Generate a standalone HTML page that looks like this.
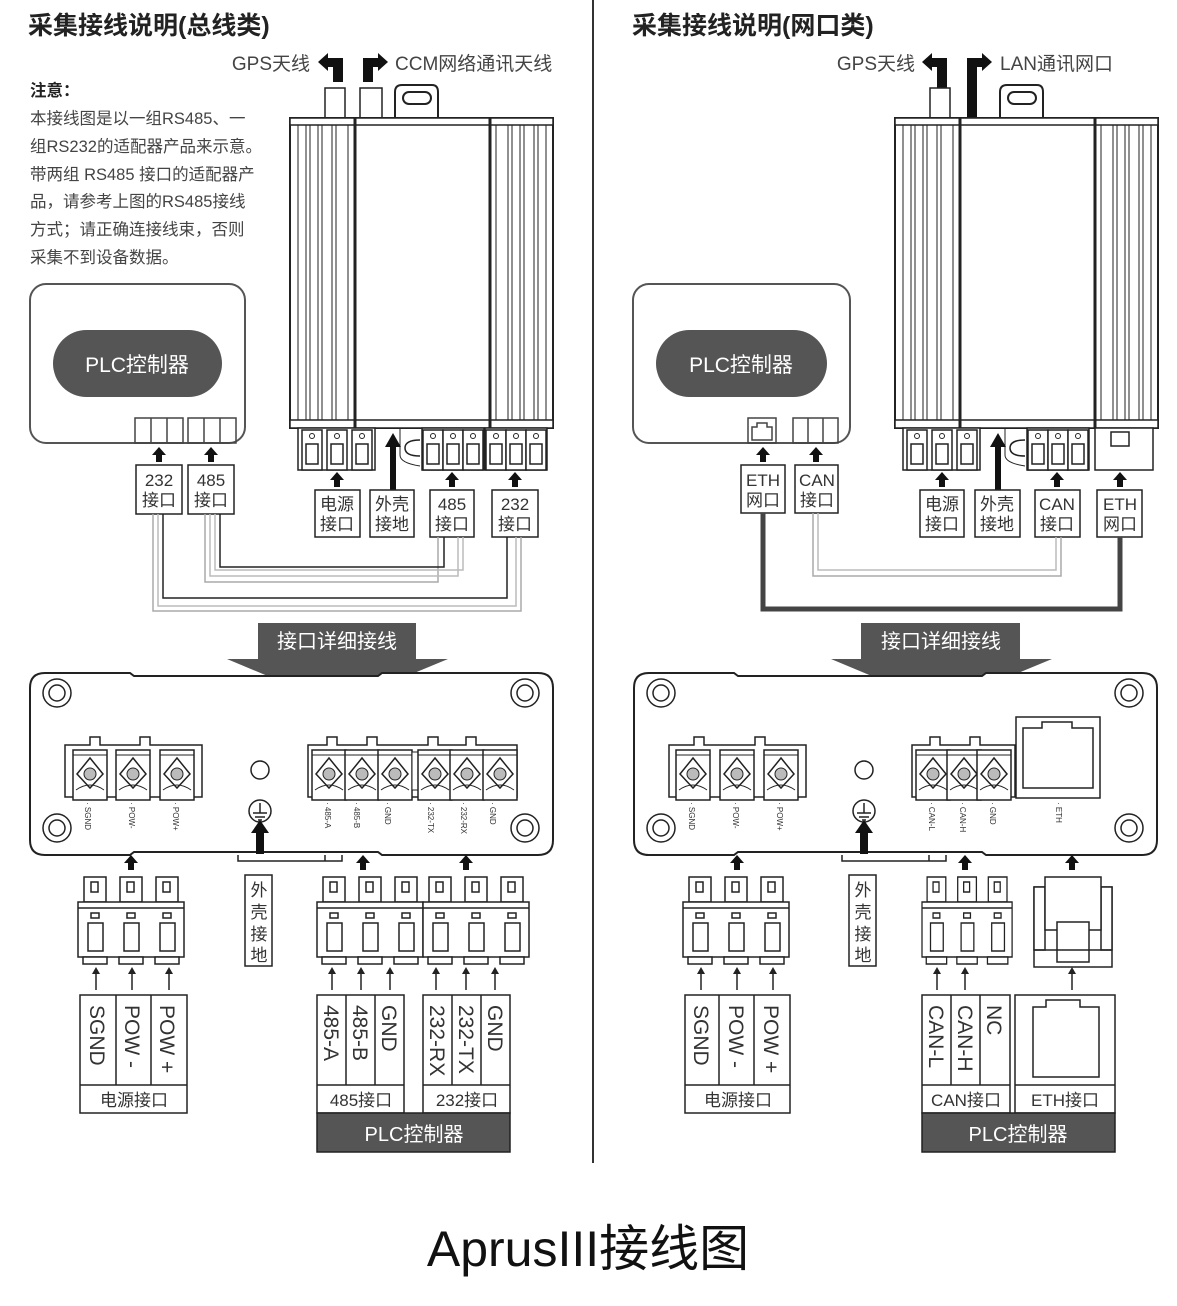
<!DOCTYPE html>
<html><head><meta charset="utf-8"><style>
html,body{margin:0;padding:0;background:#fff}
svg{display:block}
text{font-family:"Liberation Sans","Noto Sans CJK SC",sans-serif}
</style></head><body>
<svg width="1177" height="1306" viewBox="0 0 1177 1306" xmlns="http://www.w3.org/2000/svg">
<defs>
<g id="dev">
 <path d="M395 120 V92 Q395 85 402 85 H432 Q438 85 438 92 V120" fill="#fff" stroke="#222" stroke-width="2"/>
 <rect x="403" y="92" width="28" height="12" rx="6" fill="#fff" stroke="#222" stroke-width="2"/>
 <rect x="290" y="118" width="263" height="310" fill="#fff" stroke="#222" stroke-width="2"/>
 <rect x="290" y="118" width="263" height="7" fill="#fff" stroke="#222" stroke-width="1.5"/>
 <rect x="290" y="420" width="263" height="8" fill="#fff" stroke="#222" stroke-width="1.5"/>
 <line x1="355" y1="118" x2="355" y2="428" stroke="#222" stroke-width="3"/>
 <line x1="490" y1="118" x2="490" y2="428" stroke="#222" stroke-width="3"/>
 <g stroke="#222" stroke-width="1">
  <line x1="298" y1="125" x2="298" y2="420"/><line x1="306" y1="125" x2="306" y2="420"/><line x1="310" y1="125" x2="310" y2="420"/><line x1="318" y1="125" x2="318" y2="420"/><line x1="322" y1="125" x2="322" y2="420"/><line x1="332" y1="125" x2="332" y2="420"/><line x1="336" y1="125" x2="336" y2="420"/><line x1="348" y1="125" x2="348" y2="420"/>
  <line x1="496" y1="125" x2="496" y2="420"/><line x1="508" y1="125" x2="508" y2="420"/><line x1="512" y1="125" x2="512" y2="420"/><line x1="520" y1="125" x2="520" y2="420"/><line x1="524" y1="125" x2="524" y2="420"/><line x1="534" y1="125" x2="534" y2="420"/><line x1="538" y1="125" x2="538" y2="420"/><line x1="546" y1="125" x2="546" y2="420"/>
 </g>
</g>
<g id="tsmall">
 <rect x="0" y="0" width="20" height="40" fill="#fff" stroke="#222" stroke-width="1.5"/>
 <circle cx="10" cy="6" r="2.5" fill="none" stroke="#222"/>
 <rect x="4" y="14" width="12" height="20" fill="none" stroke="#222" stroke-width="1.5"/>
</g>
<g id="cell">
 <rect x="0" y="0" width="34" height="50" fill="#fff" stroke="#222" stroke-width="1.5"/>
 <line x1="0" y1="5" x2="34" y2="5" stroke="#222"/>
 <path d="M17 8 L4 24 L17 38 L30 24 Z" fill="none" stroke="#222" stroke-width="1.5"/>
 <circle cx="17" cy="24" r="6" fill="#bbb" stroke="#222"/>
 <path d="M3 40 Q17 30 31 40" fill="none" stroke="#222"/>
</g>
<g id="plug">
 <g fill="#fff" stroke="#222" stroke-width="1.5">
  <rect x="6" y="0" width="22" height="25"/><rect x="13" y="5" width="7" height="10"/>
  <rect x="42" y="0" width="22" height="25"/><rect x="49" y="5" width="7" height="10"/>
  <rect x="78" y="0" width="22" height="25"/><rect x="85" y="5" width="7" height="10"/>
  <rect x="0" y="25" width="106" height="55"/>
  <line x1="0" y1="31" x2="106" y2="31"/>
  <rect x="13" y="36" width="8" height="5"/><rect x="49" y="36" width="8" height="5"/><rect x="85" y="36" width="8" height="5"/>
  <rect x="10" y="46" width="15" height="28"/><rect x="46" y="46" width="15" height="28"/><rect x="82" y="46" width="15" height="28"/>
  <rect x="5" y="80" width="24" height="7"/><rect x="41" y="80" width="24" height="7"/><rect x="77" y="80" width="24" height="7"/>
 </g>
</g>
<g id="panel">
 <path d="M45 673 H130 L134 676 H378 L382 673 H538 Q553 673 553 688 V840 Q553 855 538 855 H382 L378 852 H134 L130 855 H45 Q30 855 30 840 V688 Q30 673 45 673 Z" fill="#fff" stroke="#222" stroke-width="2"/>
 <g fill="none" stroke="#222" stroke-width="1.5">
  <circle cx="57" cy="693" r="14"/><circle cx="57" cy="693" r="8"/>
  <circle cx="525" cy="693" r="14"/><circle cx="525" cy="693" r="8"/>
  <circle cx="57" cy="828" r="14"/><circle cx="57" cy="828" r="8"/>
  <circle cx="525" cy="828" r="14"/><circle cx="525" cy="828" r="8"/>
  <circle cx="260" cy="770" r="9"/>
  <circle cx="260" cy="811" r="11"/>
  <path d="M260 803 V813 M253 813 H267 M255 817 H265 M258 820 H262"/>
  <path d="M238 855 V861 H342 V855 M325 855 V861"/>
 </g>
 <rect x="256" y="832" width="8" height="22" fill="#111"/><path d="M251 833 L260 820 L269 833 Z" fill="#111"/>
</g>
<path id="bup" d="M-7 10 L0 2 L7 10 H3 V17 H-3 V10 Z" fill="#111"/>
<g id="sup"><line x1="0" y1="22" x2="0" y2="4" stroke="#222" stroke-width="1.5"/><path d="M-4 6 L0 -1 L4 6 Z" fill="#222"/></g>
</defs>

<line x1="593" y1="0" x2="593" y2="1163" stroke="#333" stroke-width="2"/>

<!-- LEFT -->
<text x="28" y="34" font-size="25" font-weight="bold" fill="#222">采集接线说明(总线类)</text>
<text x="310" y="70" font-size="19" fill="#444" text-anchor="end">GPS天线</text>
<path d="M318 62 L328 53 V58 H343 V82 H333 V67 H328 V71 Z" fill="#111"/>
<path d="M388 62 L378 53 V58 H363 V82 H373 V67 H378 V71 Z" fill="#111"/>
<text x="395" y="70" font-size="19" fill="#444">CCM网络通讯天线</text>
<rect x="325" y="88" width="20" height="32" fill="#fff" stroke="#222" stroke-width="1.5"/>
<rect x="360" y="88" width="22" height="32" fill="#fff" stroke="#222" stroke-width="1.5"/>
<use href="#dev"/>
<rect x="298" y="428" width="77" height="42" fill="#fff" stroke="#222" stroke-width="1.5"/>
<use href="#tsmall" x="302" y="430"/><use href="#tsmall" x="327" y="430"/><use href="#tsmall" x="352" y="430"/>
<rect x="422" y="428" width="62" height="42" fill="#fff" stroke="#222" stroke-width="1.5"/>
<use href="#tsmall" x="423" y="430"/><use href="#tsmall" x="443" y="430"/><use href="#tsmall" x="463" y="430"/>
<rect x="485" y="428" width="62" height="42" fill="#fff" stroke="#222" stroke-width="1.5"/>
<use href="#tsmall" x="486" y="430"/><use href="#tsmall" x="506" y="430"/><use href="#tsmall" x="526" y="430"/>
<path d="M420 440 Q405 440 405 448 Q405 456 420 456" fill="none" stroke="#222" stroke-width="1.5"/>
<path d="M400 428 V455 Q400 463 420 466" fill="none" stroke="#222" stroke-width="1"/>
<rect x="390" y="445" width="6" height="45" fill="#111"/><path d="M385 447 L393 433 L401 447 Z" fill="#111"/>
<use href="#bup" x="337" y="470"/><use href="#bup" x="452" y="470"/><use href="#bup" x="515" y="470"/>
<g font-size="17" fill="#333" text-anchor="middle">
<rect x="315" y="490" width="45" height="47" fill="#fff" stroke="#222" stroke-width="1.5"/><text x="337" y="510">电源</text><text x="337" y="530">接口</text>
<rect x="370" y="490" width="44" height="47" fill="#fff" stroke="#222" stroke-width="1.5"/><text x="392" y="510">外壳</text><text x="392" y="530">接地</text>
<rect x="430" y="490" width="44" height="47" fill="#fff" stroke="#222" stroke-width="1.5"/><text x="452" y="510">485</text><text x="452" y="530">接口</text>
<rect x="492" y="490" width="46" height="47" fill="#fff" stroke="#222" stroke-width="1.5"/><text x="515" y="510">232</text><text x="515" y="530">接口</text>
</g>
<g font-size="16.5" fill="#444">
<text x="30" y="96" font-weight="bold" fill="#222">注意：</text>
<text x="30" y="124">本接线图是以一组RS485、一</text>
<text x="30" y="152">组RS232的适配器产品来示意。</text>
<text x="30" y="180">带两组 RS485 接口的适配器产</text>
<text x="30" y="207">品，请参考上图的RS485接线</text>
<text x="30" y="235">方式；请正确连接线束，否则</text>
<text x="30" y="263">采集不到设备数据。</text>
</g>
<rect x="30" y="284" width="215" height="159" rx="16" fill="#fff" stroke="#555" stroke-width="2"/>
<rect x="53" y="330" width="169" height="67" rx="33.5" fill="#555"/>
<text x="137" y="372" font-size="21" fill="#fff" text-anchor="middle">PLC控制器</text>
<g fill="none" stroke="#444" stroke-width="1.5">
<rect x="135" y="418" width="48" height="25"/><line x1="151" y1="418" x2="151" y2="443"/><line x1="167" y1="418" x2="167" y2="443"/>
<rect x="188" y="418" width="48" height="25"/><line x1="204" y1="418" x2="204" y2="443"/><line x1="220" y1="418" x2="220" y2="443"/>
</g>
<use href="#bup" x="159" y="445"/><use href="#bup" x="211" y="445"/>
<g font-size="17" fill="#333" text-anchor="middle">
<rect x="136" y="465" width="46" height="49" fill="#fff" stroke="#222" stroke-width="1.5"/><text x="159" y="486">232</text><text x="159" y="506">接口</text>
<rect x="188" y="465" width="46" height="49" fill="#fff" stroke="#222" stroke-width="1.5"/><text x="211" y="486">485</text><text x="211" y="506">接口</text>
</g>
<g fill="none" stroke-width="1.5">
<path d="M153 514 V611 H521 V537" stroke="#aaa"/>
<path d="M158 514 V606 H516 V537" stroke="#bbb"/>
<path d="M163 514 V598 H507 V537" stroke="#222"/>
<path d="M205 514 V582 H438 V537" stroke="#aaa"/>
<path d="M210 514 V576 H458 V537" stroke="#bbb"/>
<path d="M215 514 V570 H463 V537" stroke="#bbb"/>
<path d="M220 514 V567 H444 V537" stroke="#222"/>
</g>
<path d="M258 623 H416 V659 H448 L337 705 L227 659 H258 Z" fill="#555"/>
<text x="337" y="648" font-size="20" fill="#fff" text-anchor="middle">接口详细接线</text>
<use href="#panel"/>
<path d="M65 745 H90 V737 H100 V745 H140 V737 H150 V745 H202 V797 H65 Z" fill="#fff" stroke="#222" stroke-width="1.5"/>
<use href="#cell" x="73" y="750"/><use href="#cell" x="116" y="750"/><use href="#cell" x="160" y="750"/>
<path d="M308 745 H327 V737 H337 V745 H367 V737 H377 V745 H428 V737 H438 V745 H466 V737 H476 V745 H517 V797 H308 Z" fill="#fff" stroke="#222" stroke-width="1.5"/>
<use href="#cell" x="312" y="750"/><use href="#cell" x="345" y="750"/><use href="#cell" x="378" y="750"/>
<rect x="412" y="752" width="6" height="38" fill="#fff" stroke="#222"/>
<use href="#cell" x="418" y="750"/><use href="#cell" x="450" y="750"/><use href="#cell" x="483" y="750"/>
<g font-size="8" fill="#333">
<text transform="translate(85,802) rotate(90)">· SGND</text>
<text transform="translate(129,802) rotate(90)">· POW-</text>
<text transform="translate(173,802) rotate(90)">· POW+</text>
<text transform="translate(325,802) rotate(90)">· 485-A</text>
<text transform="translate(354,802) rotate(90)">· 485-B</text>
<text transform="translate(385,802) rotate(90)">· GND</text>
<text transform="translate(428,802) rotate(90)">· 232-TX</text>
<text transform="translate(461,802) rotate(90)">· 232-RX</text>
<text transform="translate(490,802) rotate(90)">· GND</text>
</g>
<use href="#bup" x="131" y="853"/><use href="#bup" x="363" y="853"/><use href="#bup" x="466" y="853"/>
<rect x="245" y="875" width="27" height="91" fill="#fff" stroke="#222" stroke-width="1.5"/>
<g font-size="17" fill="#333" text-anchor="middle"><text x="259" y="896">外</text><text x="259" y="918">壳</text><text x="259" y="940">接</text><text x="259" y="961">地</text></g>
<use href="#plug" x="78" y="877"/><use href="#plug" x="317" y="877"/><use href="#plug" x="423" y="877"/>
<use href="#sup" x="96" y="968"/><use href="#sup" x="132" y="968"/><use href="#sup" x="169" y="968"/>
<use href="#sup" x="332" y="968"/><use href="#sup" x="361" y="968"/><use href="#sup" x="390" y="968"/>
<use href="#sup" x="436" y="968"/><use href="#sup" x="466" y="968"/><use href="#sup" x="495" y="968"/>
<g fill="#fff" stroke="#222" stroke-width="1.5">
<rect x="80" y="995" width="107" height="118"/><line x1="80" y1="1085" x2="187" y2="1085"/><line x1="116" y1="995" x2="116" y2="1085"/><line x1="151" y1="995" x2="151" y2="1085"/>
<rect x="317" y="995" width="87" height="118"/><line x1="317" y1="1085" x2="404" y2="1085"/><line x1="346" y1="995" x2="346" y2="1085"/><line x1="375" y1="995" x2="375" y2="1085"/>
<rect x="423" y="995" width="87" height="118"/><line x1="423" y1="1085" x2="510" y2="1085"/><line x1="452" y1="995" x2="452" y2="1085"/><line x1="481" y1="995" x2="481" y2="1085"/>
</g>
<rect x="317" y="1113" width="193" height="39" fill="#555" stroke="#222" stroke-width="1.5"/>
<g font-size="21" fill="#333">
<text transform="translate(90,1005) rotate(90)">SGND</text>
<text transform="translate(125,1005) rotate(90)">POW -</text>
<text transform="translate(160,1005) rotate(90)">POW +</text>
<text transform="translate(324,1005) rotate(90)">485-A</text>
<text transform="translate(353,1005) rotate(90)">485-B</text>
<text transform="translate(382,1005) rotate(90)">GND</text>
<text transform="translate(430,1005) rotate(90)">232-RX</text>
<text transform="translate(459,1005) rotate(90)">232-TX</text>
<text transform="translate(488,1005) rotate(90)">GND</text>
</g>
<g font-size="17" fill="#333" text-anchor="middle">
<text x="134" y="1106">电源接口</text><text x="361" y="1106">485接口</text><text x="467" y="1106">232接口</text>
</g>
<text x="414" y="1141" font-size="20" fill="#fff" text-anchor="middle">PLC控制器</text>

<!-- RIGHT -->
<text x="632" y="34" font-size="25" font-weight="bold" fill="#222">采集接线说明(网口类)</text>
<text x="915" y="70" font-size="19" fill="#444" text-anchor="end">GPS天线</text>
<path d="M922 62 L932 53 V58 H947 V90 H937 V67 H932 V71 Z" fill="#111"/>
<path d="M992 62 L982 53 V58 H967 V118 H977 V67 H982 V71 Z" fill="#111"/>
<text x="1000" y="70" font-size="19" fill="#444">LAN通讯网口</text>
<rect x="930" y="88" width="20" height="32" fill="#fff" stroke="#222" stroke-width="1.5"/>
<use href="#dev" x="605"/>
<rect x="903" y="428" width="77" height="42" fill="#fff" stroke="#222" stroke-width="1.5"/>
<use href="#tsmall" x="907" y="430"/><use href="#tsmall" x="932" y="430"/><use href="#tsmall" x="957" y="430"/>
<rect x="1027" y="428" width="62" height="42" fill="#fff" stroke="#222" stroke-width="1.5"/>
<use href="#tsmall" x="1028" y="430"/><use href="#tsmall" x="1048" y="430"/><use href="#tsmall" x="1068" y="430"/>
<rect x="1095" y="428" width="58" height="42" fill="#fff" stroke="#222" stroke-width="1.5"/>
<rect x="1111" y="432" width="18" height="14" fill="#fff" stroke="#222" stroke-width="1.5"/>
<path d="M1025 440 Q1010 440 1010 448 Q1010 456 1025 456" fill="none" stroke="#222" stroke-width="1.5"/>
<path d="M1005 428 V455 Q1005 463 1025 466" fill="none" stroke="#222" stroke-width="1"/>
<rect x="995" y="445" width="6" height="45" fill="#111"/><path d="M990 447 L998 433 L1006 447 Z" fill="#111"/>
<use href="#bup" x="942" y="470"/><use href="#bup" x="1057" y="470"/><use href="#bup" x="1120" y="470"/>
<g font-size="17" fill="#333" text-anchor="middle">
<rect x="920" y="490" width="44" height="47" fill="#fff" stroke="#222" stroke-width="1.5"/><text x="942" y="510">电源</text><text x="942" y="530">接口</text>
<rect x="975" y="490" width="45" height="47" fill="#fff" stroke="#222" stroke-width="1.5"/><text x="997" y="510">外壳</text><text x="997" y="530">接地</text>
<rect x="1035" y="490" width="45" height="47" fill="#fff" stroke="#222" stroke-width="1.5"/><text x="1057" y="510">CAN</text><text x="1057" y="530">接口</text>
<rect x="1097" y="490" width="45" height="47" fill="#fff" stroke="#222" stroke-width="1.5"/><text x="1120" y="510">ETH</text><text x="1120" y="530">网口</text>
</g>
<rect x="633" y="284" width="217" height="159" rx="16" fill="#fff" stroke="#555" stroke-width="2"/>
<rect x="656" y="330" width="171" height="67" rx="33.5" fill="#555"/>
<text x="741" y="372" font-size="21" fill="#fff" text-anchor="middle">PLC控制器</text>
<g fill="none" stroke="#444" stroke-width="1.5">
<rect x="748" y="418" width="28" height="25"/><path d="M752 440 V427 H757 V423 H767 V427 H772 V440 Z"/>
<rect x="793" y="418" width="45" height="25"/><line x1="808" y1="418" x2="808" y2="443"/><line x1="823" y1="418" x2="823" y2="443"/>
</g>
<use href="#bup" x="763" y="445"/><use href="#bup" x="816" y="445"/>
<g font-size="17" fill="#333" text-anchor="middle">
<rect x="741" y="465" width="44" height="48" fill="#fff" stroke="#222" stroke-width="1.5"/><text x="763" y="486">ETH</text><text x="763" y="506">网口</text>
<rect x="795" y="465" width="43" height="48" fill="#fff" stroke="#222" stroke-width="1.5"/><text x="817" y="486">CAN</text><text x="817" y="506">接口</text>
</g>
<g fill="none">
<path d="M763 513 V609 H1120 V537" stroke="#444" stroke-width="5"/>
<path d="M813 513 V576 H1061 V537" stroke="#aaa" stroke-width="1.5"/>
<path d="M818 513 V570 H1056 V537" stroke="#bbb" stroke-width="1.5"/>
</g>
<path d="M861 623 H1020 V659 H1052 L941 705 L831 659 H861 Z" fill="#555"/>
<text x="941" y="648" font-size="20" fill="#fff" text-anchor="middle">接口详细接线</text>
<use href="#panel" x="604"/>
<path d="M669 745 H694 V737 H704 V745 H755 V737 H765 V745 H806 V797 H669 Z" fill="#fff" stroke="#222" stroke-width="1.5"/>
<use href="#cell" x="676" y="750"/><use href="#cell" x="720" y="750"/><use href="#cell" x="764" y="750"/>
<path d="M912 745 H930 V737 H940 V745 H970 V737 H980 V745 H1015 V797 H912 Z" fill="#fff" stroke="#222" stroke-width="1.5"/>
<use href="#cell" x="916" y="750"/><use href="#cell" x="947" y="750"/><use href="#cell" x="977" y="750"/>
<rect x="1016" y="717" width="84" height="81" fill="#fff" stroke="#222" stroke-width="1.5"/>
<path d="M1023 788 V728 H1042 V722 H1072 V728 H1093 V788 Z" fill="none" stroke="#222" stroke-width="1.5"/>
<g font-size="8" fill="#333">
<text transform="translate(689,802) rotate(90)">· SGND</text>
<text transform="translate(733,802) rotate(90)">· POW-</text>
<text transform="translate(777,802) rotate(90)">· POW+</text>
<text transform="translate(929,802) rotate(90)">· CAN-L</text>
<text transform="translate(960,802) rotate(90)">· CAN-H</text>
<text transform="translate(990,802) rotate(90)">· GND</text>
<text transform="translate(1056,802) rotate(90)">· ETH</text>
</g>
<use href="#bup" x="737" y="853"/><use href="#bup" x="965" y="853"/><use href="#bup" x="1072" y="853"/>
<rect x="849" y="875" width="27" height="91" fill="#fff" stroke="#222" stroke-width="1.5"/>
<g font-size="17" fill="#333" text-anchor="middle"><text x="863" y="896">外</text><text x="863" y="918">壳</text><text x="863" y="940">接</text><text x="863" y="961">地</text></g>
<use href="#plug" x="683" y="877"/>
<g transform="translate(922,877) scale(0.85,1)"><use href="#plug"/></g>
<g fill="#fff" stroke="#222" stroke-width="1.5">
<rect x="1034" y="887" width="78" height="80"/><rect x="1034" y="887" width="11" height="63"/><rect x="1101" y="887" width="11" height="63"/>
<rect x="1045" y="877" width="56" height="53"/><rect x="1057" y="922" width="32" height="40"/>
<line x1="1034" y1="950" x2="1112" y2="950"/>
</g>
<use href="#sup" x="701" y="968"/><use href="#sup" x="737" y="968"/><use href="#sup" x="773" y="968"/>
<use href="#sup" x="937" y="968"/><use href="#sup" x="965" y="968"/><use href="#sup" x="1072" y="968"/>
<g fill="#fff" stroke="#222" stroke-width="1.5">
<rect x="685" y="995" width="105" height="118"/><line x1="685" y1="1085" x2="790" y2="1085"/><line x1="719" y1="995" x2="719" y2="1085"/><line x1="754" y1="995" x2="754" y2="1085"/>
<rect x="922" y="995" width="88" height="118"/><line x1="922" y1="1085" x2="1010" y2="1085"/><line x1="951" y1="995" x2="951" y2="1085"/><line x1="980" y1="995" x2="980" y2="1085"/>
<rect x="1015" y="995" width="100" height="118"/><line x1="1015" y1="1085" x2="1115" y2="1085"/>
</g>
<path d="M1025 1077 V1007 H1038 V1000 H1072 V1007 H1091 V1077 Z" fill="none" stroke="#222" stroke-width="1.5" transform="translate(8,0)"/>
<rect x="922" y="1113" width="193" height="39" fill="#555" stroke="#222" stroke-width="1.5"/>
<g font-size="21" fill="#333">
<text transform="translate(694,1005) rotate(90)">SGND</text>
<text transform="translate(729,1005) rotate(90)">POW -</text>
<text transform="translate(764,1005) rotate(90)">POW +</text>
<text transform="translate(929,1005) rotate(90)">CAN-L</text>
<text transform="translate(958,1005) rotate(90)">CAN-H</text>
<text transform="translate(987,1005) rotate(90)">NC</text>
</g>
<g font-size="17" fill="#333" text-anchor="middle">
<text x="738" y="1106">电源接口</text><text x="966" y="1106">CAN接口</text><text x="1065" y="1106">ETH接口</text>
</g>
<text x="1018" y="1141" font-size="20" fill="#fff" text-anchor="middle">PLC控制器</text>

<text x="588" y="1266" font-size="50" fill="#111" text-anchor="middle">AprusIII接线图</text>
</svg>
</body></html>
